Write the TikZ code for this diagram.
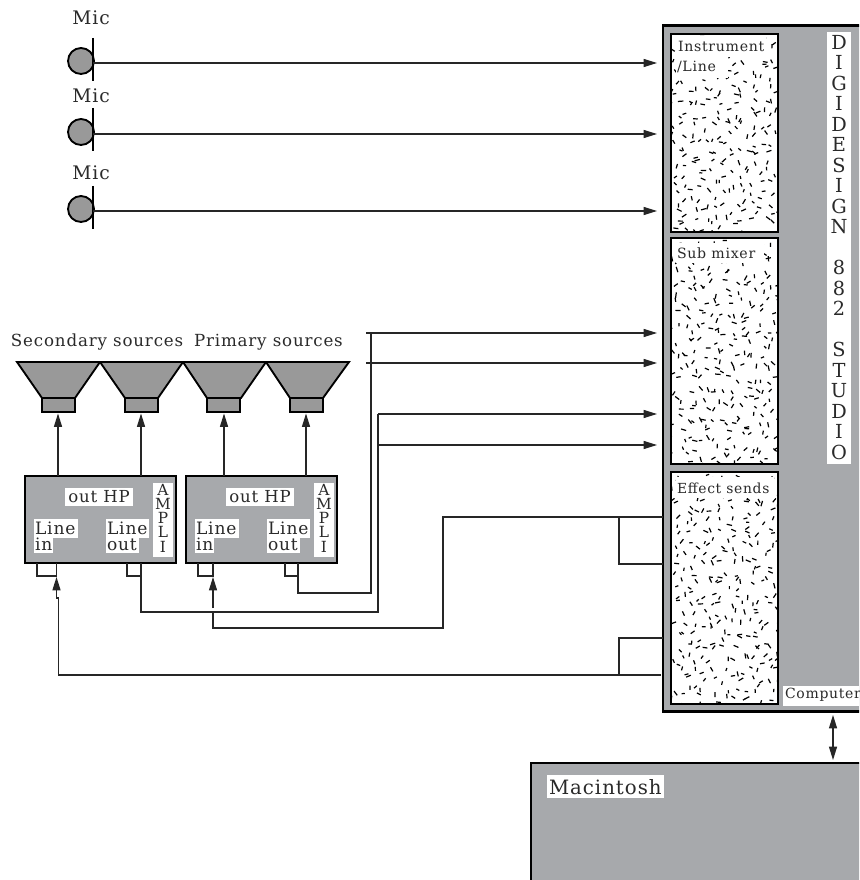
\documentclass[tikz,border=0pt]{standalone}
\usepackage{fontspec}
\setmainfont[LetterSpace=5]{DejaVu Serif}
\usetikzlibrary{arrows.meta}
\definecolor{panelgray}{HTML}{A7A9AC}
\definecolor{srcgray}{HTML}{999999}
\definecolor{ink}{HTML}{2A2A2A}
\newcommand{\stipple}[5]{%
  \begin{scope}
    \clip (#1,#2) rectangle (#3,#4);
    \pgfmathsetseed{#5}
    \foreach \ix in {0,...,11}{
      \foreach \iy in {0,...,25}{
        \pgfmathsetmacro{\px}{#1+\ix*9.6+rnd*9.6}
        \pgfmathsetmacro{\py}{#2+\iy*9.6+rnd*9.6}
        \pgfmathsetmacro{\pa}{rnd*180}
        \pgfmathsetmacro{\pl}{3+rnd*2.5}
        \draw[tick] (\px,\py) -- ++(\pa:\pl);
      }
    }
  \end{scope}}
\tikzset{
  sz/.style n args={2}{minimum width=#1*0.75pt,minimum height=#2*0.75pt},
  wire/.style={line width=0.9pt,draw=black!85},
  arr/.style={wire,-{Triangle[length=10pt,width=6pt]}},
  dbl/.style={wire,{Triangle[length=10pt,width=6pt]}-{Triangle[length=10pt,width=6pt]}},
  tick/.style={line width=0.9pt,black},
  box/.style={draw=black,line width=1.6pt,fill=panelgray,anchor=north west,inner sep=0pt,outer sep=0pt},
  panel/.style={draw=black,line width=1.6pt,fill=white,anchor=north west,inner sep=0pt,outer sep=0pt},
  wbox/.style={fill=white,inner sep=0pt,outer sep=0pt,anchor=north west},
  lab/.style={font=\fontsize{12.5}{14}\selectfont,text=ink,inner sep=0pt,outer sep=0pt},
  stack/.style={font=\fontsize{11.5}{10.7}\selectfont,text=ink,align=center,inner sep=0pt,outer sep=0pt},
  mic/.style={circle,draw=black,line width=1.4pt,fill=srcgray,minimum size=26*0.75pt,inner sep=0pt,outer sep=0pt},
  spk/.style={draw=black,line width=1.4pt,fill=srcgray,line join=miter},
  driver/.style={draw=black,line width=1.5pt,fill=srcgray,anchor=north west,inner sep=0pt,outer sep=0pt,minimum width=33*0.75pt,minimum height=14*0.75pt}
}
\begin{document}
\begin{tikzpicture}[x=0.75pt,y=-0.75pt]
\useasboundingbox (0,0) rectangle (859,880);
\fill[white] (0,0) rectangle (859,880);
\begin{scope}
\clip (0,0) rectangle (859,880);
% Main rack
\node[box,sz={210}{686}] (rack) at (663,25.5) {};
\node[wbox,sz={24}{432}] (digiback) at (827,32) {};
\node[stack,font=\fontsize{14.5}{15.375}\selectfont,anchor=north] (digi) at (839,35) {D\\I\\G\\I\\D\\E\\S\\I\\G\\N\\\mbox{}\\8\\8\\2\\\mbox{}\\S\\T\\U\\D\\I\\O};

% Panels
\node[panel,sz={107}{198}] (p1) at (671,34) {};
\stipple{671}{34}{778}{232}{11}
\node[wbox,sz={90}{21}] (p1a) at (676,36) {};
\node[wbox,sz={52}{22}] (p1b) at (676,56) {};
\node[lab,anchor=west] (p1t) at (678,46) {\fontsize{10.6}{13}\selectfont Instrument};
\node[lab,anchor=west] (p1u) at (677,67) {\fontsize{10.6}{13}\selectfont /Line};
\draw[draw=black,line width=1.6pt] (671,34) rectangle (778,232);

\node[panel,sz={107}{226}] (p2) at (671,238) {};
\stipple{671}{238}{778}{464}{23}
\node[wbox,sz={88}{20}] (p2a) at (676,243) {};
\node[lab,anchor=west] (p2t) at (677,253) {\fontsize{10.6}{13}\selectfont Sub mixer};
\draw[draw=black,line width=1.6pt] (671,238) rectangle (778,464);

\node[panel,sz={107}{232}] (p3) at (671,472) {};
\stipple{671}{472}{778}{704}{37}
\node[wbox,sz={98}{21}] (p3a) at (676,477) {};
\node[lab,anchor=west] (p3t) at (677,488) {\fontsize{10.4}{13}\selectfont Effect sends};
\draw[draw=black,line width=1.6pt] (671,472) rectangle (778,704);

\node[wbox,sz={76}{20}] (compback) at (783,686) {};
\node[lab,anchor=west] (comp) at (785,695) {\fontsize{10.5}{13}\selectfont Computer};

% Macintosh
\node[box,sz={340}{130}] (mac) at (531,763) {};
\node[wbox,sz={117}{23}] (macback) at (547,775) {};
\node[lab,anchor=west] (mact) at (549,787) {\fontsize{14.8}{16}\selectfont Macintosh};
\coordinate (rackport) at (833,715);
\coordinate (macport) at (833,760);
\draw[dbl] (rackport) -- (macport);

% Mics
\foreach \n/\cy/\ly/\ty/\ay in {a/61/38/18/63,b/132/108/96/134,c/209/186/173/211}{
  \node[lab,font=\fontsize{14}{15}\selectfont] (mt\n) at (91,\ty) {Mic};
  \node[mic] (m\n) at (81,\cy) {};
  \draw[line width=1.4pt,black] (93,\ly) -- (93,\ly+43);
  \coordinate (ms\n) at (93,\ay);
  \coordinate (mi\n) at (657,\ay);
  \draw[arr] (ms\n) -- (mi\n);
}

% Source labels
\node[lab,anchor=west] (sec) at (11,342) {Secondary sources};
\node[lab,anchor=west] (pri) at (194,342) {Primary sources};

% Speakers
\foreach \n/\xa/\xb/\xc/\xd in {a/17/42/75/100,b/100/125/158/183,c/183/207/241/266,d/266/290/323/349}{
  \draw[spk] (\xa,362) -- (\xd,362) -- (\xc,398) -- (\xb,398) -- cycle;
  \node[driver] (d\n) at (\xb,398) {};
}

% Amps
\node[box,sz={151}{87}] (ampA) at (25,476) {};
\node[box,sz={151}{87}] (ampB) at (186,476) {};
\foreach \n/\o in {A/0,B/161}{
  \node[wbox,sz={68}{18}] (hpb\n) at (65+\o,488) {};
  \node[lab,font=\fontsize{12.4}{15}\selectfont] (hp\n) at (99+\o,497) {out HP};
  \node[wbox,sz={20}{74}] (apb\n) at (153+\o,483) {};
  \node[stack,anchor=north] (ap\n) at (163+\o,484) {A\\M\\P\\L\\I};
  \node[wbox,sz={44}{19}] (lib\n) at (34+\o,519) {};
  \node[wbox,sz={19}{16}] (lic\n) at (34+\o,537) {};
  \node[stack,font=\fontsize{12.8}{12}\selectfont,align=left,anchor=west] (li\n) at (35+\o,536) {Line\\in};
  \node[wbox,sz={43}{19}] (lob\n) at (106+\o,519) {};
  \node[wbox,sz={33}{16}] (loc\n) at (106+\o,537) {};
  \node[stack,font=\fontsize{12.8}{12}\selectfont,align=left,anchor=west] (lo\n) at (107+\o,536) {Line\\out};
}

% Amp to speaker arrows
\foreach \n/\x in {a/58,b/141,c/224,d/306}{
  \coordinate (u\n) at (\x,476);
  \coordinate (v\n) at (\x,413.5);
  \draw[arr] (u\n) -- (v\n);
}

% Port brackets
\draw[wire] (37,563) -- (37,576) -- (56.5,576) -- (56.5,563);
\draw[wire] (127,563) -- (127,576) -- (141,576);
\draw[wire] (198,563) -- (198,576) -- (213,576) -- (213,563);
\draw[wire] (285,563) -- (285,576) -- (298,576);

% Amp B line out -> sub mixer
\coordinate (bo) at (298,563);
\coordinate (s1) at (657,333);
\coordinate (s2) at (657,363);
\draw[wire] (bo) -- (298,593) -- (371,593) -- (371,333);
\draw[arr] (366,333) -- (s1);
\draw[arr] (366,363) -- (s2);

% Amp A line out -> sub mixer
\coordinate (ao) at (141,563);
\coordinate (s3) at (657,414);
\coordinate (s4) at (657,445);
\draw[wire] (ao) -- (141,612) -- (378,612) -- (378,414);
\draw[arr] (378,414) -- (s3);
\draw[arr] (378,445) -- (s4);

% Effect sends -> Amp B line in
\coordinate (e1) at (663,517);
\coordinate (e2) at (663,564);
\coordinate (bi) at (213,577);
\draw[wire] (e1) -- (443,517) -- (443,628) -- (213,628) -- (213,612);
\draw[wire] (e2) -- (619,564) -- (619,517);
\draw[arr] (213,608) -- (bi);

% Effect sends -> Amp A line in
\coordinate (e3) at (663,638);
\coordinate (e4) at (661,675);
\coordinate (ai) at (56.5,577);
\draw[wire] (e3) -- (619,638) -- (619,675);
\draw[arr] (e4) -- (58.5,675) -- (58.5,598) -- (56.5,598) -- (ai);
\end{scope}
\end{tikzpicture}
\end{document}
